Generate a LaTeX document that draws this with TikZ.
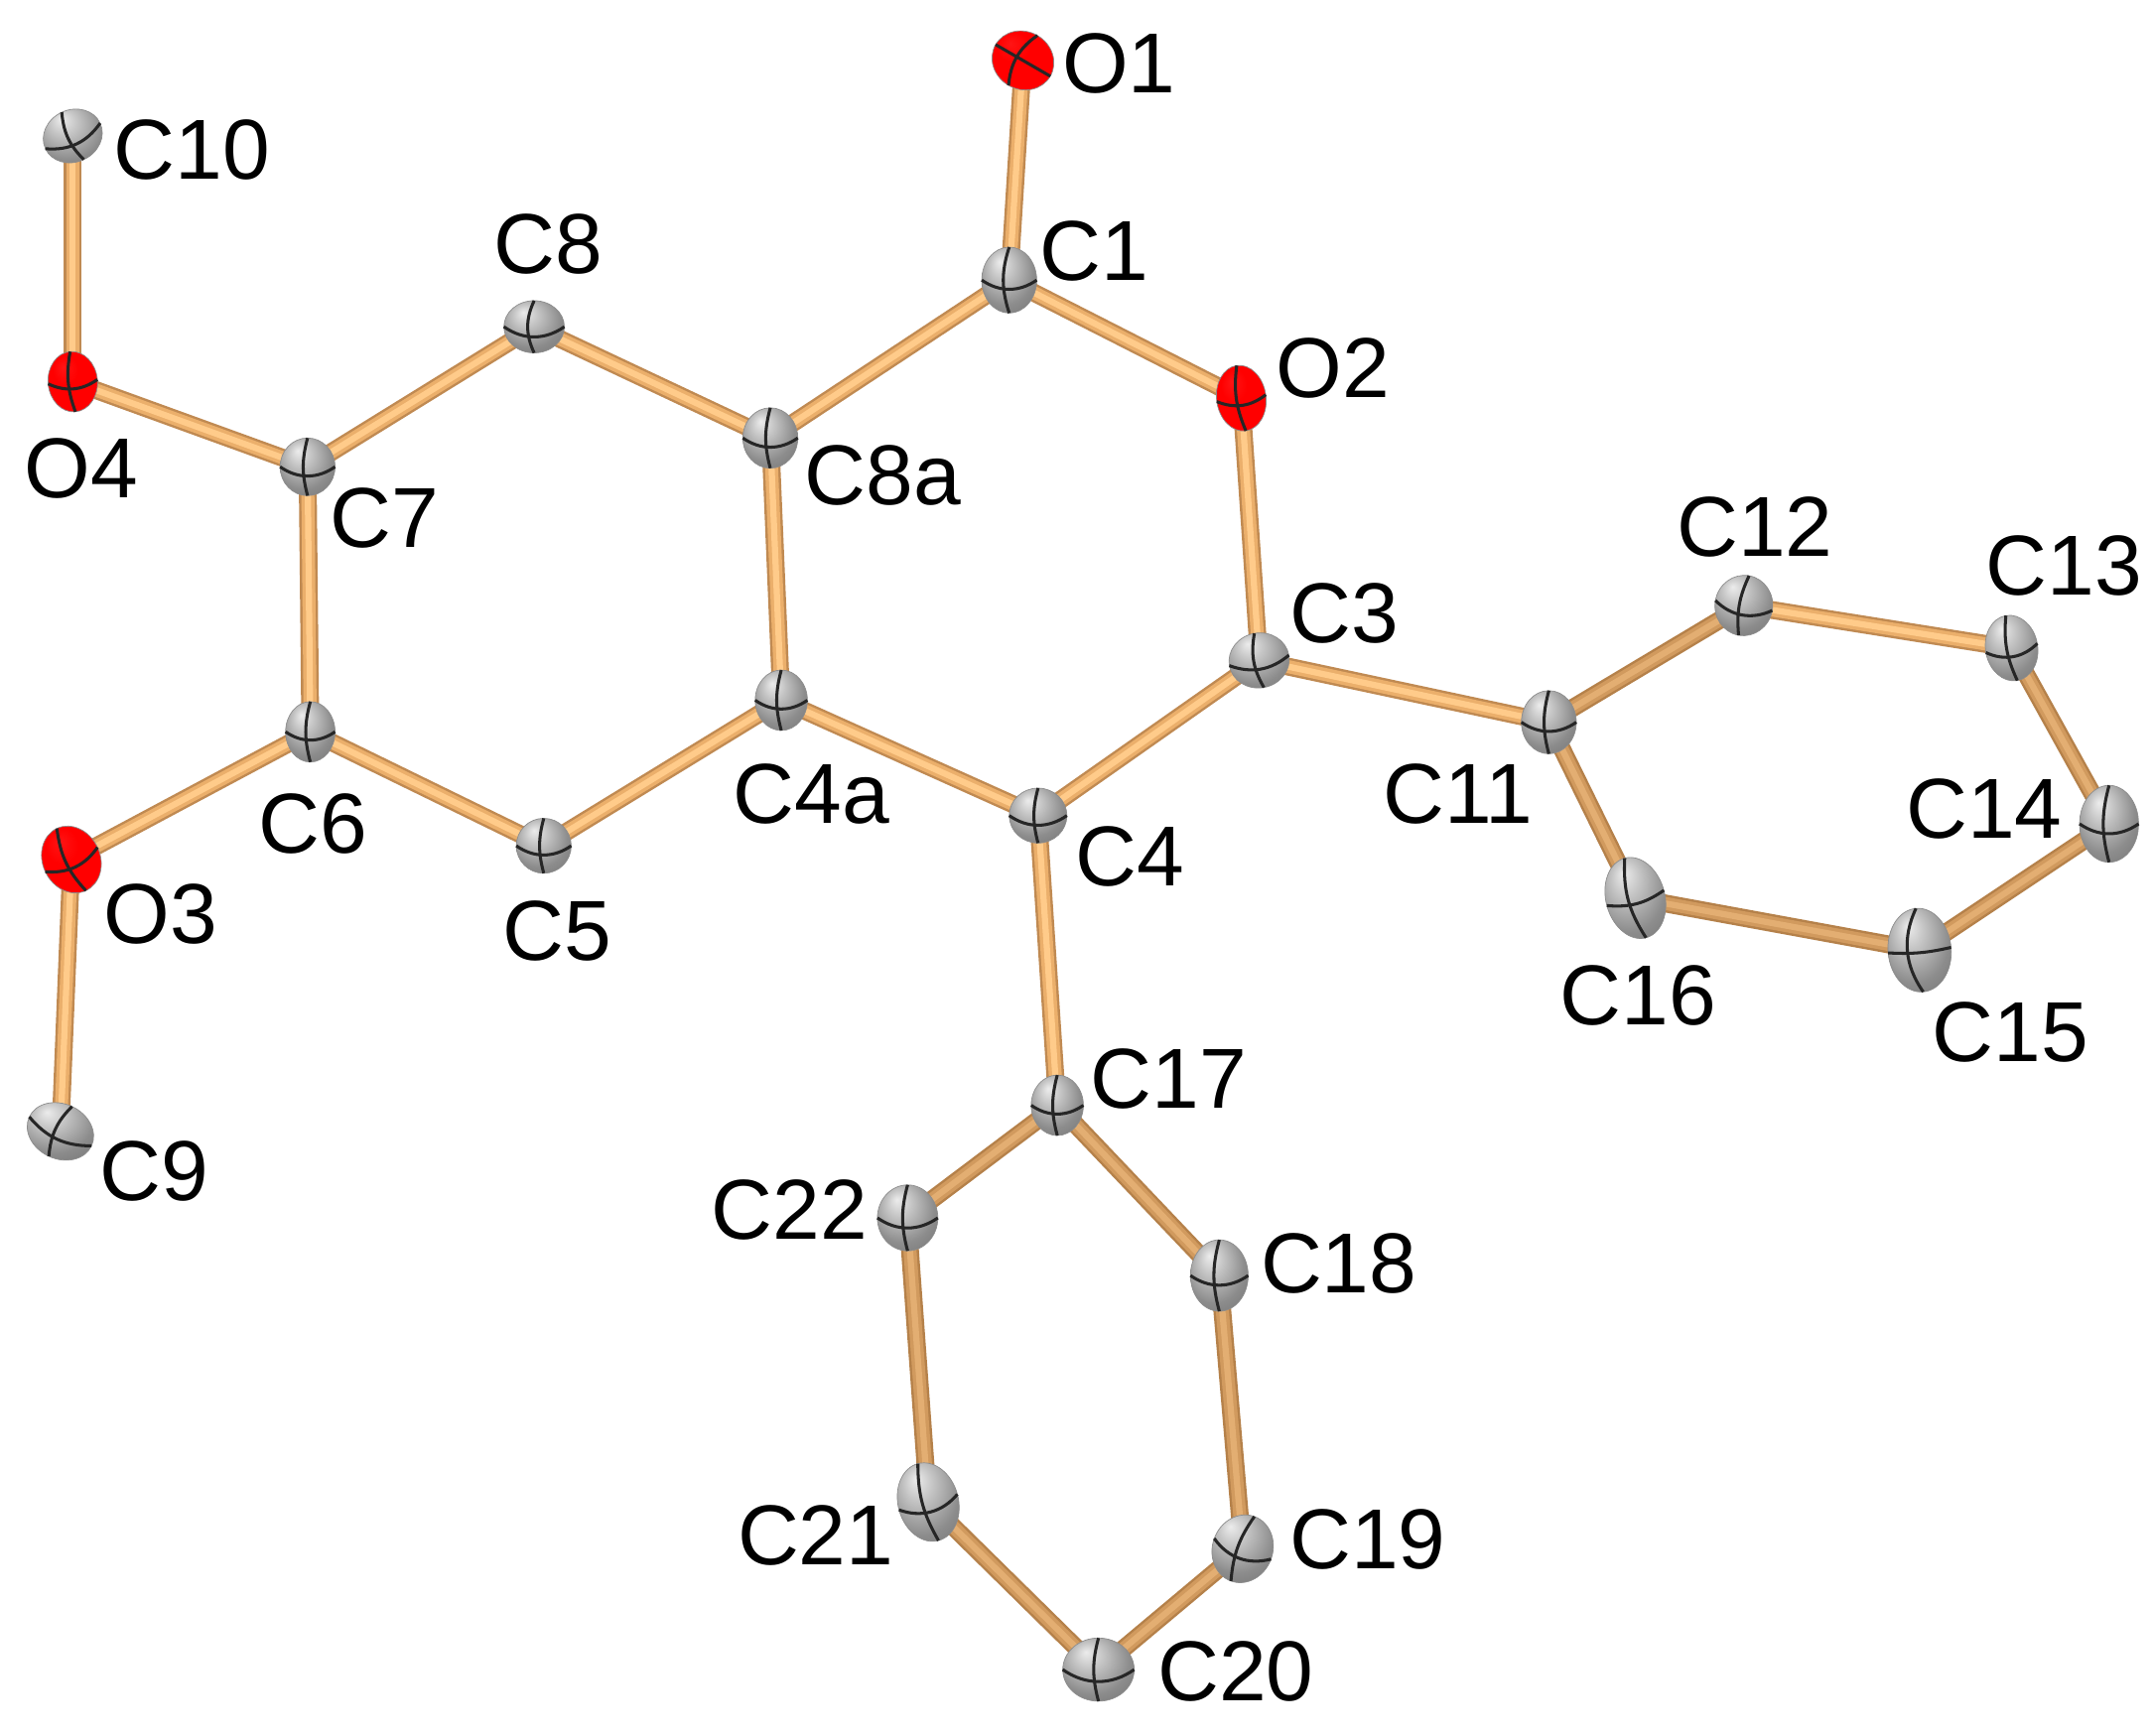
\documentclass[tikz,border=0pt]{standalone}
\usepackage{fontspec}
\setmainfont{Liberation Sans}
\usetikzlibrary{shapes.geometric,backgrounds}
\pgfdeclareradialshading{atomgray}{\pgfpoint{-9bp}{14bp}}{color(0bp)=(gray!15!white);color(10bp)=(gray!45!white);color(26bp)=(gray!90!white);color(40bp)=(black!55);color(50bp)=(black!60)}
\pgfdeclareradialshading{atomred}{\pgfpoint{-9bp}{12bp}}{color(0bp)=(red!92!white);color(12bp)=(red);color(34bp)=(red);color(44bp)=(red!78!black);color(50bp)=(red!68!black)}
\definecolor{bondedge}{HTML}{C08A52}
\definecolor{bondmid}{HTML}{EBAF6B}
\definecolor{bondcore}{HTML}{FFCB8A}
\definecolor{dedge}{HTML}{B5814A}
\definecolor{dmid}{HTML}{D19A5E}
\definecolor{dcore}{HTML}{E3AE72}
\tikzset{
  atomshape/.style={ellipse,inner sep=0pt,outer sep=0pt,draw=black!45,line width=0.5pt},
  cross/.style={draw=black!85,line width=2.2pt},
  lbl/.style={font=\fontsize{62}{62}\selectfont,inner sep=0pt,text=black},
  bo/.style={line width=13pt,bondedge},
  bm/.style={line width=9.5pt,bondmid},
  bc/.style={line width=4.5pt,bondcore},
  dbo/.style={line width=13pt,dedge},
  dbm/.style={line width=9.5pt,dmid},
  dbc/.style={line width=4.5pt,dcore}
}
% name, x, y, w, h, rot, shading, bend of equator, bend of meridian
\newcommand{\atm}[9]{%
  \node[atomshape,shading=#7,minimum width=#4pt,minimum height=#5pt,rotate=#6] (#1) at (#2,#3) {};
  \draw[cross] (#1.west) to[bend right=#8] (#1.east);
  \draw[cross] (#1.north) to[bend right=#9] (#1.south);
}
\begin{document}
\begin{tikzpicture}[x=1pt,y=-1pt]
\useasboundingbox (0,0) rectangle (1568,1264);
\atm{O1}{745}{44}{46}{42}{-30}{atomred}{0}{25}
\atm{C1}{735}{204}{40}{48}{0}{atomgray}{35}{18}
\atm{O2}{904}{290}{36}{48}{8}{atomred}{30}{15}
\atm{C8a}{561}{319}{40}{44}{0}{atomgray}{35}{15}
\atm{C8}{389}{238}{44}{38}{0}{atomgray}{35}{25}
\atm{C7}{224}{340}{40}{42}{0}{atomgray}{35}{15}
\atm{O4}{53}{278}{36}{44}{5}{atomred}{30}{15}
\atm{C10}{53}{99}{44}{38}{25}{atomgray}{30}{20}
\atm{C6}{226}{533}{36}{44}{0}{atomgray}{35}{15}
\atm{O3}{52}{626}{42}{50}{25}{atomred}{30}{18}
\atm{C9}{44}{824}{50}{40}{-25}{atomgray}{25}{20}
\atm{C5}{396}{616}{40}{40}{0}{atomgray}{35}{15}
\atm{C4a}{569}{510}{38}{44}{0}{atomgray}{35}{15}
\atm{C4}{756}{594}{42}{40}{0}{atomgray}{35}{15}
\atm{C3}{917}{481}{44}{40}{10}{atomgray}{30}{20}
\atm{C11}{1128}{526}{40}{46}{0}{atomgray}{35}{15}
\atm{C12}{1270}{441}{42}{44}{-10}{atomgray}{35}{15}
\atm{C13}{1465}{472}{38}{48}{10}{atomgray}{35}{15}
\atm{C14}{1536}{600}{43}{56}{0}{atomgray}{35}{15}
\atm{C15}{1398}{692}{46}{61}{5}{atomgray}{8}{30}
\atm{C16}{1191}{654}{43}{60}{15}{atomgray}{20}{18}
\atm{C17}{770}{805}{38}{44}{0}{atomgray}{35}{15}
\atm{C18}{888}{929}{42}{52}{0}{atomgray}{35}{15}
\atm{C19}{905}{1128}{44}{50}{-20}{atomgray}{35}{15}
\atm{C20}{800}{1216}{52}{46}{0}{atomgray}{35}{15}
\atm{C21}{676}{1094}{44}{58}{15}{atomgray}{35}{15}
\atm{C22}{661}{887}{44}{48}{0}{atomgray}{35}{15}
\begin{pgfonlayer}{background}
\foreach \a/\b in {O1/C1,C1/O2,C1/C8a,O2/C3,C8a/C8,C8/C7,C7/O4,O4/C10,C7/C6,C6/O3,O3/C9,C6/C5,C5/C4a,C4a/C8a,C4a/C4,C4/C3,C3/C11,C4/C17,C12/C13}{
  \draw[bo] (\a.center) -- (\b.center);
  \draw[bm] (\a.center) -- (\b.center);
  \draw[bc] (\a.center) -- (\b.center);
}
\foreach \a/\b in {C11/C12,C11/C16,C16/C15,C15/C14,C14/C13,C17/C18,C18/C19,C19/C20,C20/C21,C21/C22,C22/C17}{
  \draw[dbo] (\a.center) -- (\b.center);
  \draw[dbm] (\a.center) -- (\b.center);
  \draw[dbc] (\a.center) -- (\b.center);
}
\end{pgfonlayer}
\node[lbl] (tO1) at (815,46) {O1};
\node[lbl] (tC1) at (797,183) {C1};
\node[lbl] (tO2) at (971,268) {O2};
\node[lbl] (tC8) at (399,178) {C8};
\node[lbl] (tC10) at (140,109) {C10};
\node[lbl] (tO4) at (59,341) {O4};
\node[lbl] (tC7) at (280,377) {C7};
\node[lbl] (tC8a) at (643,346) {C8a};
\node[lbl] (tC3) at (979,447) {C3};
\node[lbl] (tC12) at (1278,384) {C12};
\node[lbl] (tC13) at (1503,412) {C13};
\node[lbl] (tC14) at (1445,589) {C14};
\node[lbl] (tC11) at (1062,578) {C11};
\node[lbl] (tC16) at (1193,725) {C16};
\node[lbl] (tC15) at (1464,752) {C15};
\node[lbl] (tC4) at (823,624) {C4};
\node[lbl] (tC4a) at (591,578) {C4a};
\node[lbl] (tC6) at (228,600) {C6};
\node[lbl] (tC5) at (406,678) {C5};
\node[lbl] (tO3) at (117,666) {O3};
\node[lbl] (tC9) at (112,853) {C9};
\node[lbl] (tC17) at (851,786) {C17};
\node[lbl] (tC22) at (575,881) {C22};
\node[lbl] (tC18) at (975,920) {C18};
\node[lbl] (tC21) at (594,1118) {C21};
\node[lbl] (tC19) at (996,1121) {C19};
\node[lbl] (tC20) at (900,1217) {C20};
\end{tikzpicture}
\end{document}
